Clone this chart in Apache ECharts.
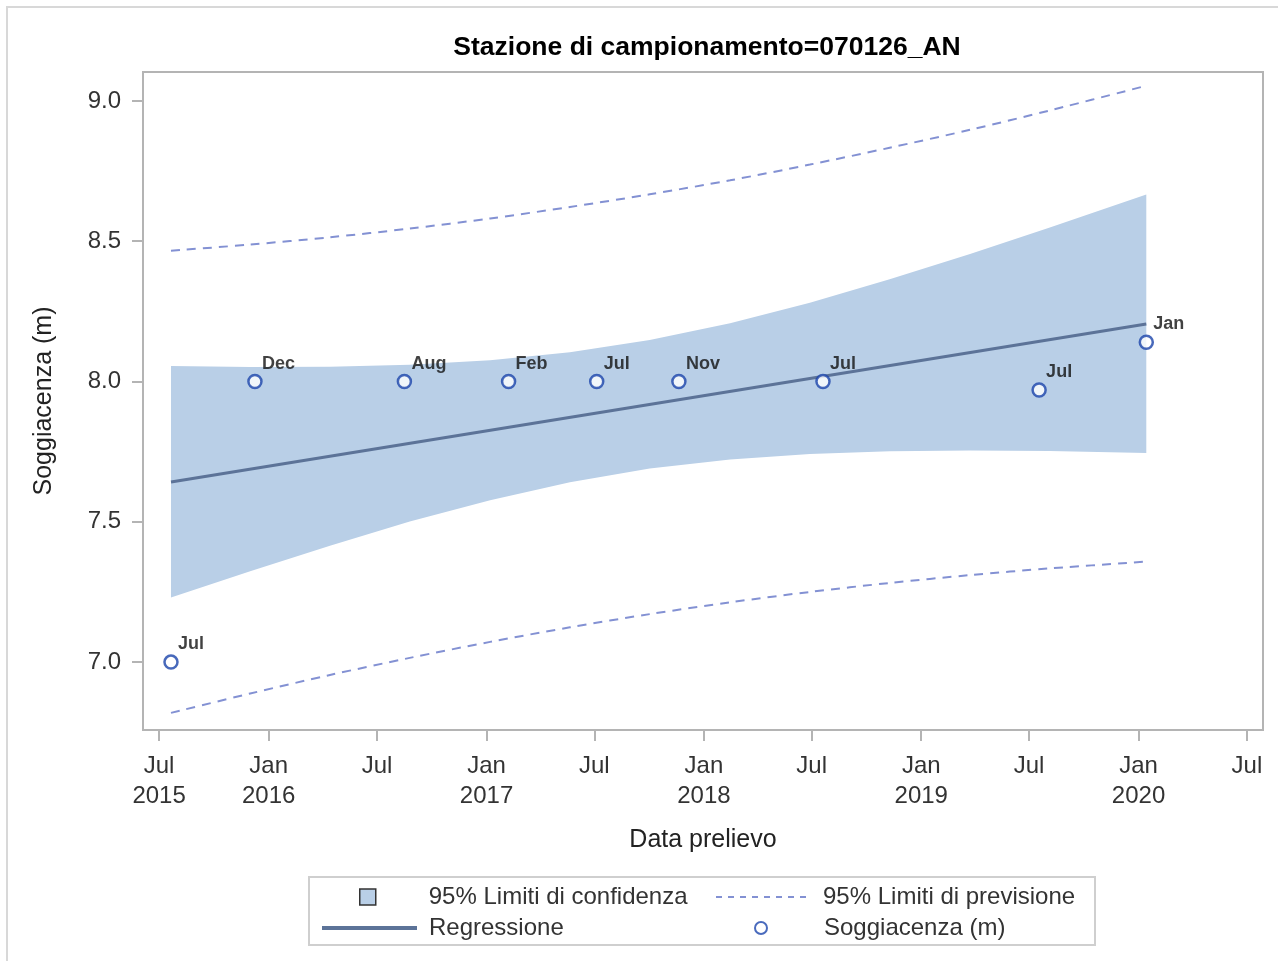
<!DOCTYPE html>
<html lang="it">
<head>
<meta charset="UTF-8">
<title>Soggiacenza 070126_AN</title>
<script src="https://cdn.jsdelivr.net/npm/echarts@6/dist/echarts.min.js"></script>
<style>html,body{margin:0;padding:0;background:#fff;}</style>
</head>
<body>
<div id="main" style="width:1278px;height:961px;"></div>
<script type="text/javascript">
// misure (date di prelievo, soggiacenza in m)
var pointDates  = ['2015-07-21', '2015-12-09', '2016-08-16', '2017-02-07', '2017-07-05', '2017-11-20', '2018-07-20', '2019-07-18', '2020-01-14'];
var pointValues = [7.00, 8.00, 8.00, 8.00, 8.00, 8.00, 8.00, 7.97, 8.14];
var pointMonths = ['Jul', 'Dec', 'Aug', 'Feb', 'Jul', 'Nov', 'Jul', 'Jul', 'Jan'];

// bande
var bandDates = ['2015-07-21', '2015-12-01', '2016-04-13', '2016-08-25', '2017-01-07', '2017-05-21', '2017-10-02',
                 '2018-02-14', '2018-06-28', '2018-11-09', '2019-03-24', '2019-08-05', '2020-01-14'];
var confUpper = [8.055, 8.052, 8.053, 8.060, 8.076, 8.104, 8.148, 8.208, 8.281, 8.364, 8.454, 8.549, 8.666];
var confLower = [7.230, 7.324, 7.415, 7.501, 7.577, 7.641, 7.690, 7.722, 7.742, 7.751, 7.754, 7.752, 7.745];
var predUpper = [8.466, 8.488, 8.514, 8.545, 8.581, 8.622, 8.667, 8.717, 8.773, 8.833, 8.897, 8.966, 9.054];
var predLower = [6.819, 6.888, 6.954, 7.015, 7.072, 7.124, 7.171, 7.213, 7.250, 7.282, 7.310, 7.334, 7.358];

// retta di regressione
var regDates  = ['2015-07-21', '2020-01-14'];
var regValues = [7.642, 8.205];

// assi
var tickDates  = ['2015-07-01', '2016-01-01', '2016-07-01', '2017-01-01', '2017-07-01', '2018-01-01',
                  '2018-07-01', '2019-01-01', '2019-07-01', '2020-01-01', '2020-07-01'];
var tickLabels = ['Jul\n2015', 'Jan\n2016', 'Jul', 'Jan\n2017', 'Jul', 'Jan\n2018', 'Jul', 'Jan\n2019', 'Jul', 'Jan\n2020', 'Jul'];
var yTicks = [7.0, 7.5, 8.0, 8.5, 9.0];

var FONT = 'Liberation Sans, Arial, sans-serif';

function ts(d) {
    var p = d.split('-');
    return Date.UTC(+p[0], +p[1] - 1, +p[2]);
}
function pairs(dates, vals) {
    return dates.map(function (d, i) { return [ts(d), vals[i]]; });
}

var tickTs = tickDates.map(ts);
var bandData = bandDates.map(function (d, i) { return [ts(d), confLower[i], confUpper[i]]; });

var myChart = echarts.init(document.getElementById('main'));

var lineTextStyle = { fontFamily: FONT, fontSize: 24, color: '#333', padding: [0, 0, 0, 7], lineHeight: 26 };
// niente simbolo sulle icone di linea della legenda
var noSymbol = { color: 'rgba(0,0,0,0)', borderColor: 'rgba(0,0,0,0)', borderWidth: 0 };

var option = {
    backgroundColor: '#fff',
    animation: false,
    title: {
        text: 'Stazione di campionamento=070126_AN',
        left: 702,
        top: 29,
        textAlign: 'center',
        textStyle: { fontFamily: FONT, fontSize: 26.5, fontWeight: 'bold', color: '#000' }
    },
    grid: {
        left: 143, top: 72, right: 15, bottom: 231,
        show: true, borderColor: '#b4b4b4', borderWidth: 2
    },
    legend: [
        {
            left: 359, top: 884, padding: 0, selectedMode: false,
            itemWidth: 16, itemHeight: 16,
            data: [{ name: '95% Limiti di confidenza', icon: 'rect',
                     itemStyle: { color: '#b9cfe7', borderColor: '#333', borderWidth: 1.5 } }],
            textStyle: { fontFamily: FONT, fontSize: 24, color: '#333', padding: [0, 0, 0, 48], lineHeight: 26 }
        },
        {
            left: 715, top: 884, padding: 0, selectedMode: false,
            itemWidth: 95, itemHeight: 14,
            data: [{ name: '95% Limiti di previsione', itemStyle: noSymbol }],
            lineStyle: { type: [6, 6] },
            textStyle: lineTextStyle
        },
        {
            left: 320, top: 915, padding: 0, selectedMode: false,
            itemWidth: 95, itemHeight: 14,
            data: [{ name: 'Regressione', itemStyle: noSymbol }],
            lineStyle: { width: 4 },
            textStyle: lineTextStyle
        },
        {
            left: 754, top: 915, padding: 0, selectedMode: false,
            itemWidth: 12, itemHeight: 12,
            data: [{ name: 'Soggiacenza (m)', icon: 'circle',
                     itemStyle: { color: '#fff', borderColor: '#1d46ad', borderWidth: 2 } }],
            textStyle: { fontFamily: FONT, fontSize: 24, color: '#333', padding: [0, 0, 0, 52], lineHeight: 26 }
        }
    ],
    graphic: [
        { type: 'rect', silent: true, shape: { x: 7, y: 7, width: 1400, height: 1100 },
          style: { fill: 'none', stroke: '#d8d8d8', lineWidth: 2 } },
        { type: 'rect', silent: true, shape: { x: 309, y: 877, width: 786, height: 68 },
          style: { fill: 'none', stroke: '#cfcfcf', lineWidth: 2 } }
    ],
    xAxis: {
        type: 'value',
        min: ts('2015-06-04'),
        max: ts('2020-07-28'),
        name: 'Data prelievo',
        nameLocation: 'middle',
        nameGap: 98,
        nameTextStyle: { fontFamily: FONT, fontSize: 25, color: '#222' },
        splitLine: { show: false },
        axisLine: { show: true, lineStyle: { color: '#b4b4b4', width: 2 } },
        axisTick: { show: true, length: 11, customValues: tickTs, lineStyle: { color: '#b4b4b4', width: 2 } },
        axisLabel: {
            customValues: tickTs,
            margin: 21,
            fontFamily: FONT, fontSize: 24, color: '#333', lineHeight: 30,
            formatter: function (v) {
                var i = tickTs.indexOf(v);
                return i >= 0 ? tickLabels[i] : '';
            }
        }
    },
    yAxis: {
        type: 'value',
        min: 6.758,
        max: 9.103,
        name: 'Soggiacenza (m)',
        nameLocation: 'middle',
        nameGap: 86,
        nameTextStyle: { fontFamily: FONT, fontSize: 25, color: '#222' },
        splitLine: { show: false },
        axisLine: { show: true, lineStyle: { color: '#b4b4b4', width: 2 } },
        axisTick: { show: true, length: 11, customValues: yTicks, lineStyle: { color: '#b4b4b4', width: 2 } },
        axisLabel: {
            customValues: yTicks,
            margin: 22,
            fontFamily: FONT, fontSize: 24, color: '#333',
            formatter: function (v) { return v.toFixed(1); }
        }
    },
    series: [
        {
            name: '95% Limiti di confidenza',
            type: 'custom',
            clip: true,
            z: 1,
            silent: true,
            itemStyle: { color: '#b9cfe7' },
            encode: { x: 0, y: [1, 2] },
            data: bandData,
            renderItem: function (params, api) {
                if (params.dataIndex !== 0) return;
                var pts = [], i;
                for (i = 0; i < bandData.length; i++) pts.push(api.coord([bandData[i][0], bandData[i][2]]));
                for (i = bandData.length - 1; i >= 0; i--) pts.push(api.coord([bandData[i][0], bandData[i][1]]));
                return { type: 'polygon', shape: { points: pts }, style: { fill: '#b9cfe7' } };
            }
        },
        {
            name: '95% Limiti di previsione',
            type: 'line', z: 3, symbol: 'none', smooth: 0.3,
            lineStyle: { color: '#8391d3', width: 2, type: [9, 7] },
            data: pairs(bandDates, predUpper)
        },
        {
            name: '95% Limiti di previsione',
            type: 'line', z: 3, symbol: 'none', smooth: 0.3,
            lineStyle: { color: '#8391d3', width: 2, type: [9, 7] },
            data: pairs(bandDates, predLower)
        },
        {
            name: 'Regressione',
            type: 'line', z: 4, symbol: 'none',
            lineStyle: { color: '#5c7398', width: 3 },
            data: pairs(regDates, regValues)
        },
        {
            name: 'Soggiacenza (m)',
            type: 'scatter', z: 5,
            symbol: 'circle', symbolSize: 13,
            itemStyle: { color: '#fff', borderColor: '#1a43aa', borderWidth: 2.5 },
            label: {
                show: true,
                position: 'top',
                align: 'left',
                offset: [7, 0],
                distance: 1,
                fontFamily: FONT, fontSize: 18, fontWeight: 'bold', color: '#111',
                formatter: function (p) { return pointMonths[p.dataIndex]; }
            },
            data: pairs(pointDates, pointValues)
        }
    ]
};

myChart.setOption(option);
</script>
</body>
</html>
